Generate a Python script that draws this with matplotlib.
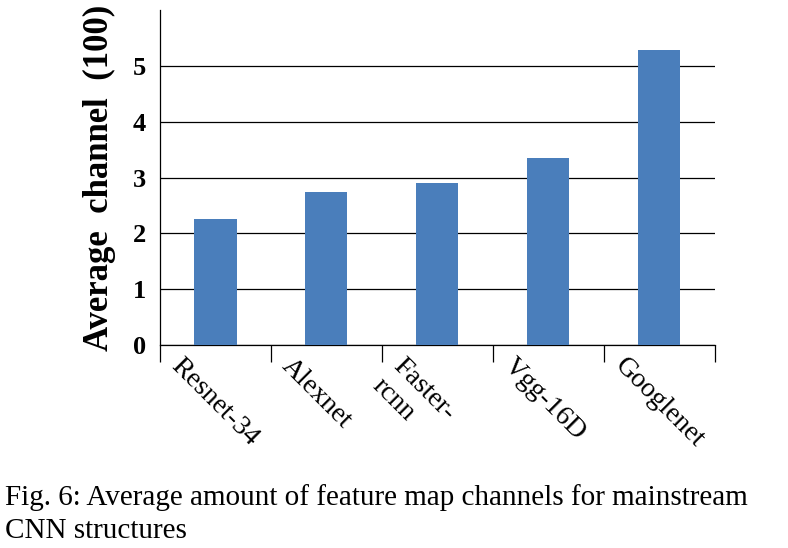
import matplotlib.pyplot as plt
import matplotlib.transforms as mtransforms
import numpy as np

models = ['Resnet-34', 'Alexnet', 'Faster-\nrcnn', 'Vgg-16D', 'Googlenet']
channels = [2.26, 2.74, 2.90, 3.35, 5.29]
yticks = [0, 1, 2, 3, 4, 5]

plt.rcParams['font.family'] = ['Liberation Serif', 'DejaVu Serif']

fig = plt.figure(figsize=(7.88, 5.48), dpi=100)
ax = fig.add_axes([0.203, 0.370, 0.704, 0.612])

x = np.arange(len(models))
ax.bar(x, channels, width=0.38, color='#4a7ebb', zorder=3)
ax.set_xlim(-0.5, len(models) - 0.5)
ax.set_ylim(0, 6)
ax.set_yticks(yticks)
ax.set_yticklabels([str(t) for t in yticks], fontsize=19, fontweight='bold')
ax.yaxis.grid(True, color='black', linewidth=0.9, zorder=0)
ax.tick_params(axis='y', length=0, pad=10)

# category boundary ticks
ax.set_xticks(np.arange(len(models) + 1) - 0.5)
ax.set_xticklabels([])
ax.tick_params(axis='x', which='major', length=12, width=0.9, direction='out')
ax.set_xticks(x, minor=True)
ax.set_xticklabels(models, minor=True, rotation=-45, ha='left', va='top',
                   rotation_mode='anchor', fontsize=20)
ax.tick_params(axis='x', which='minor', length=0, pad=6)
shift = mtransforms.ScaledTranslation(-0.32, 0, fig.dpi_scale_trans)
for lbl in ax.get_xticklabels(minor=True):
    lbl.set_transform(lbl.get_transform() + shift)

for s in ['top', 'right']:
    ax.spines[s].set_visible(False)
ax.spines['left'].set_linewidth(0.9)
ax.spines['bottom'].set_linewidth(0.9)

ax.set_ylabel('Average  channel  (100)', fontsize=25, fontweight='bold', labelpad=12)

fig.text(0.006, 0.078, 'Fig. 6: Average amount of feature map channels for mainstream',
         fontsize=21, ha='left', va='baseline')
fig.text(0.006, 0.018, 'CNN structures', fontsize=21, ha='left', va='baseline')

fig.savefig('out.png', dpi=100)
